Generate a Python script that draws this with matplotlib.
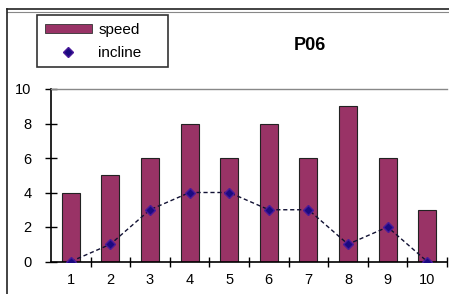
import matplotlib
matplotlib.use("Agg")
import matplotlib.pyplot as plt
from matplotlib.lines import Line2D
from matplotlib.patches import Patch
import numpy as np

categories = ["1", "2", "3", "4", "5", "6", "7", "8", "9", "10"]
speed = [4, 5, 6, 8, 6, 8, 6, 9, 6, 3]
incline = [0, 1, 3, 4, 4, 3, 3, 1, 2, 0]
yticks = [0, 2, 4, 6, 8, 10]

W, H = 449, 294
fig = plt.figure(figsize=(W / 100, H / 100), dpi=100)
plt.rcParams['font.family'] = ['Liberation Sans', 'DejaVu Sans']

# outer frame lines
fig.add_artist(Line2D([7 / W, 1], [1 - 8.5 / H, 1 - 8.5 / H], color="#222222", lw=1.2))
fig.add_artist(Line2D([7 / W, 1], [1 - 11.5 / H, 1 - 11.5 / H], color="#888888", lw=0.8))
fig.add_artist(Line2D([7 / W, 7 / W], [0, 1 - 8.5 / H], color="#222222", lw=1.2))

ax = fig.add_axes([51 / W, 1 - 261.5 / H, 396 / W, (261.5 - 89) / H])
x = np.arange(len(categories))
ax.bar(x, speed, width=0.45, color="#993366", edgecolor="#222222", linewidth=0.8, zorder=2)
ax.plot(x, incline, linestyle=(0, (3, 2)), color="#111133", linewidth=1.0,
        marker="D", markersize=5, markerfacecolor="#1a0a80", markeredgecolor="#4b1a9a", zorder=3)

ax.set_xlim(-0.5, len(categories) - 0.5)
ax.set_ylim(0, 10)
ax.set_yticks(yticks)
ax.set_yticklabels([str(v) for v in yticks], fontsize=10.5)
ax.set_xticks(x)
ax.set_xticklabels(categories, fontsize=10.5)
ax.tick_params(axis="x", length=0, pad=8)
ax.set_xticks(np.arange(len(categories)) + 0.5, minor=True)
ax.tick_params(axis="x", which="minor", direction="inout", length=7, width=1.0)
ax.tick_params(axis="y", direction="inout", length=8, width=1.0, pad=10)

ax.spines["right"].set_visible(False)
ax.spines["top"].set_color("#888888")
ax.spines["top"].set_linewidth(1.0)
ax.spines["left"].set_linewidth(1.2)
ax.spines["bottom"].set_linewidth(1.2)
ax.set_facecolor("white")

fig.text(310 / W, 1 - 45 / H, "P06", fontsize=13, fontweight="bold", ha="center", va="center")

handles = [Patch(facecolor="#993366", edgecolor="#333333", linewidth=0.6),
           Line2D([], [], linestyle="none", marker="D", markersize=5,
                  markerfacecolor="#1a0a80", markeredgecolor="#4b1a9a")]
leg = fig.legend(handles, ["speed", "incline"], loc="upper left",
                 bbox_to_anchor=(37 / W, 1 - 15 / H, 131 / W, 0.0), mode="expand",
                 fontsize=11, frameon=True,
                 fancybox=False, edgecolor="black", handlelength=3.1, handleheight=0.5,
                 borderpad=0.5, labelspacing=0.6, handletextpad=0.4, borderaxespad=0)
leg.get_frame().set_linewidth(1.2)

fig.savefig("out.png", dpi=100)
